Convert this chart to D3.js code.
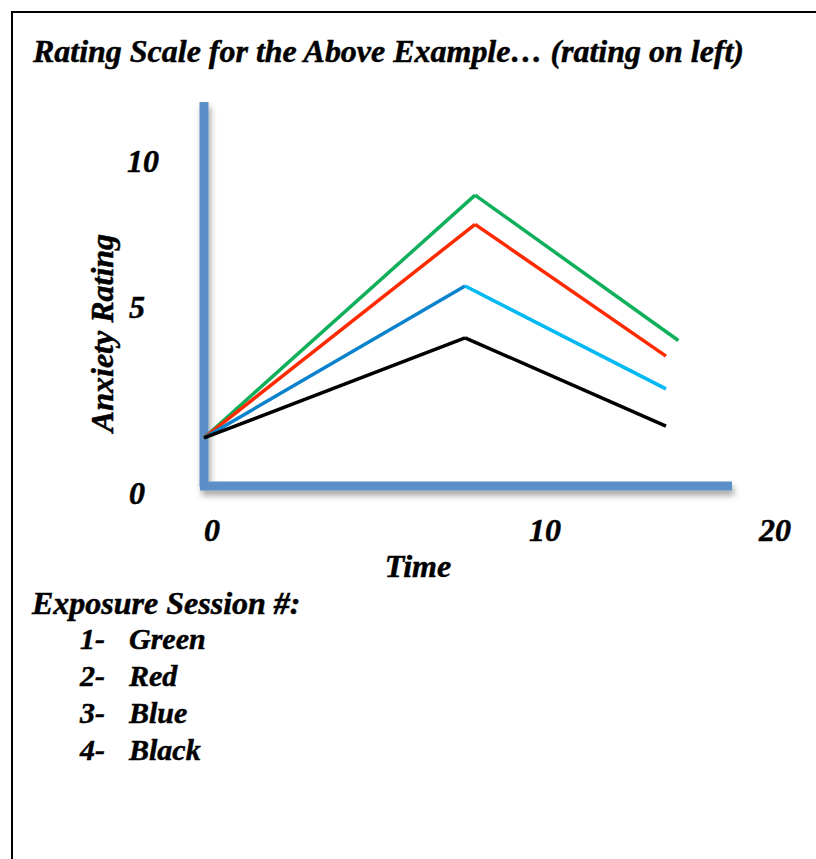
<!DOCTYPE html>
<html>
<head>
<meta charset="utf-8">
<script src="https://cdn.jsdelivr.net/npm/d3@7"></script>
<style>
  body { margin: 0; background: #fff; }
  svg text { font-family: "Liberation Serif", "Times New Roman", serif; font-weight: bold; font-style: italic; fill: #000; stroke: #000; stroke-width: 0.5px; }
</style>
</head>
<body>
<div id="chart"></div>
<script>
// time points of each session (start, peak, end)
var sessions = ["Green", "Red", "Blue", "Black"];
var greenTime = [-0.24, 7.9, 15.8];
var greenRating = [1.48, 8.83, 4.1];
var redTime = [-0.24, 7.9, 15.26];
var redRating = [1.48, 7.83, 3.68];
var blueTime = [-0.24, 7.6, 15.26];
var blueRating = [1.48, 5.72, 2.8];
var blackTime = [-0.24, 7.6, 15.26];
var blackRating = [1.48, 4.17, 1.8];
var xTicks = [0, 10, 20];
var yTicks = [0, 5, 10];

var width = 816, height = 859;

var svg = d3.select("#chart")
    .append("svg")
    .attr("width", width)
    .attr("height", height);

// soft shadow under the axis bars
var defs = svg.append("defs");
var f = defs.append("filter").attr("id", "shadow")
    .attr("x", "-10%").attr("y", "-10%").attr("width", "130%").attr("height", "140%");
f.append("feDropShadow")
    .attr("dx", 2).attr("dy", 5).attr("stdDeviation", 3)
    .attr("flood-color", "#000").attr("flood-opacity", 0.35);

// frame (left and top only)
svg.append("path")
    .attr("d", "M12,859 V12 H816")
    .attr("fill", "none")
    .attr("stroke", "#000")
    .attr("stroke-width", 2);

svg.append("text")
    .attr("x", 33).attr("y", 62)
    .attr("font-size", 32)
    .attr("textLength", 711)
    .attr("lengthAdjust", "spacingAndGlyphs")
    .text("Rating Scale for the Above Example\u2026 (rating on left)");

// the sketch is not evenly spaced, so piecewise scales
var x = d3.scaleLinear().domain([0, 10, 20]).range([212, 545, 775]);
var y = d3.scaleLinear().domain([0, 5, 10]).range([493, 307, 161]);

// axis bars
var axisG = svg.append("g").attr("filter", "url(#shadow)");
axisG.append("line")
    .attr("x1", 204).attr("x2", 204)
    .attr("y1", 102).attr("y2", 487)
    .attr("stroke", "#5b8fc8").attr("stroke-width", 9);
axisG.append("line")
    .attr("x1", 200).attr("x2", 732)
    .attr("y1", 486).attr("y2", 486)
    .attr("stroke", "#5b8fc8").attr("stroke-width", 9);

svg.selectAll(".xtick")
    .data(xTicks)
    .enter().append("text")
    .attr("class", "xtick")
    .attr("x", function (d) { return x(d); })
    .attr("y", 541)
    .attr("text-anchor", "middle")
    .attr("font-size", 32)
    .text(function (d) { return d; });

svg.selectAll(".ytick")
    .data(yTicks)
    .enter().append("text")
    .attr("class", "ytick")
    .attr("x", function (d) { return d == 10 ? 143 : 137; })
    .attr("y", function (d) { return y(d) + 11; })
    .attr("text-anchor", "middle")
    .attr("font-size", 32)
    .text(function (d) { return d; });

svg.append("text")
    .attr("x", 418).attr("y", 577)
    .attr("text-anchor", "middle")
    .attr("font-size", 32)
    .text("Time");

svg.append("text")
    .attr("transform", "translate(113,333) rotate(-90)")
    .attr("text-anchor", "middle")
    .attr("font-size", 32)
    .text("Anxiety Rating");

var series = [
    { time: greenTime, rating: greenRating, colors: ["#10b05a", "#10b05a"] },
    { time: redTime, rating: redRating, colors: ["#ff2a00", "#ff2a00"] },
    { time: blueTime, rating: blueRating, colors: ["#0a82cc", "#00b9f2"] },
    { time: blackTime, rating: blackRating, colors: ["#000000", "#000000"] }
];

var line = d3.line()
    .x(function (d) { return x(d[0]); })
    .y(function (d) { return y(d[1]); });

// draw back to front so black sits on top at the shared start
series.forEach(function (s) {
    for (var i = 0; i < s.time.length - 1; i++) {
        svg.append("path")
            .datum([[s.time[i], s.rating[i]], [s.time[i + 1], s.rating[i + 1]]])
            .attr("fill", "none")
            .attr("stroke", s.colors[i])
            .attr("stroke-width", 3.5)
            .attr("d", line);
    }
});

// legend
svg.append("text")
    .attr("x", 32).attr("y", 614)
    .attr("font-size", 32)
    .text("Exposure Session #:");

var leg = svg.selectAll(".leg")
    .data(sessions)
    .enter().append("g")
    .attr("class", "leg")
    .attr("transform", function (d, i) { return "translate(0," + (649 + i * 37) + ")"; });
leg.append("text")
    .attr("x", 80)
    .attr("font-size", 30)
    .text(function (d, i) { return (i + 1) + "-"; });
leg.append("text")
    .attr("x", 129)
    .attr("font-size", 30)
    .text(function (d) { return d; });
</script>
</body>
</html>
